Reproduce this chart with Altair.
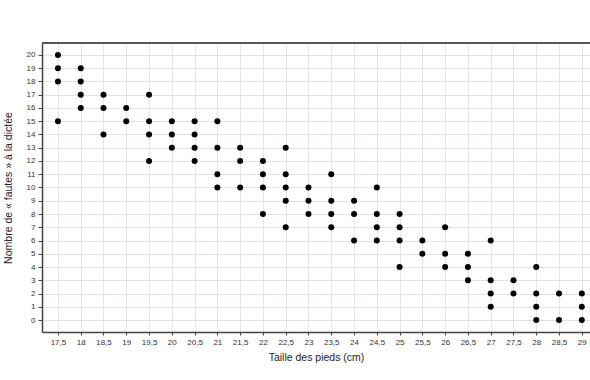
import altair as alt
import pandas as pd

# Foot size (cm) and, for each size, the distinct numbers of dictation mistakes observed
pointures = [17.5, 18, 18.5, 19, 19.5, 20, 20.5, 21, 21.5, 22, 22.5, 23,
             23.5, 24, 24.5, 25, 25.5, 26, 26.5, 27, 27.5, 28, 28.5, 29]
fautes = [
    [20, 19, 18, 15],
    [19, 18, 17, 16],
    [17, 16, 14],
    [16, 15],
    [17, 15, 14, 12],
    [15, 14, 13],
    [15, 14, 13, 12],
    [15, 13, 11, 10],
    [13, 12, 10],
    [12, 11, 10, 8],
    [13, 11, 10, 9, 7],
    [10, 9, 8],
    [11, 9, 8, 7],
    [9, 8, 6],
    [10, 8, 7, 6],
    [8, 7, 6, 4],
    [6, 5],
    [7, 5, 4],
    [5, 4, 3],
    [6, 3, 2, 1],
    [3, 2],
    [4, 2, 1, 0],
    [2, 0],
    [2, 1, 0],
]
y_ticks = list(range(0, 21))

rows = []
for p, fs in zip(pointures, fautes):
    for f in fs:
        rows.append({"pointure": p, "fautes": f})
df = pd.DataFrame(rows)

W, H = 548, 289
font = "Liberation Sans"

points = alt.Chart(df).mark_circle(size=36, color="#000000", opacity=1).encode(
    x=alt.X("pointure:Q",
            scale=alt.Scale(domain=[17.15, 29.18], nice=False, zero=False),
            axis=alt.Axis(values=pointures, title="Taille des pieds (cm)",
                          labelExpr="replace('' + datum.value, '.', ',')",
                          labelFontSize=8, labelColor="#333333", labelFont=font,
                          labelPadding=3, tickSize=3, tickColor="#444444",
                          domainColor="#444444", domainWidth=1.5,
                          grid=True, gridColor="#e2e6ea", gridWidth=1,
                          titleFontSize=10.5, titleFont=font, titleFontWeight="normal",
                          titleColor="#222222", titlePadding=6)),
    y=alt.Y("fautes:Q",
            scale=alt.Scale(domain=[-0.9, 20.9], nice=False, zero=False),
            axis=alt.Axis(values=y_ticks, title="Nombre de « fautes » à la dictée",
                          labelFontSize=8, labelColor="#333333", labelFont=font,
                          labelPadding=3, tickSize=4, tickColor="#444444",
                          domainColor="#444444", domainWidth=1.5,
                          grid=True, gridColor="#ecdede", gridWidth=1,
                          titleFontSize=10.5, titleFont=font, titleFontWeight="normal",
                          titleColor="#222222", titlePadding=13)),
)

top_line = alt.Chart(df).mark_rule(color="#555555", strokeWidth=2).encode(
    x=alt.value(0), x2=alt.value(W), y=alt.value(0)
)

chart = alt.layer(points, top_line).properties(
    width=W, height=H,
    autosize=alt.AutoSizeParams(type="none"),
    padding={"left": 42, "top": 43, "right": 0, "bottom": 48},
    background="white",
).configure_view(stroke=None)

chart.save("out.html", embed_options={"renderer": "svg", "actions": False})
